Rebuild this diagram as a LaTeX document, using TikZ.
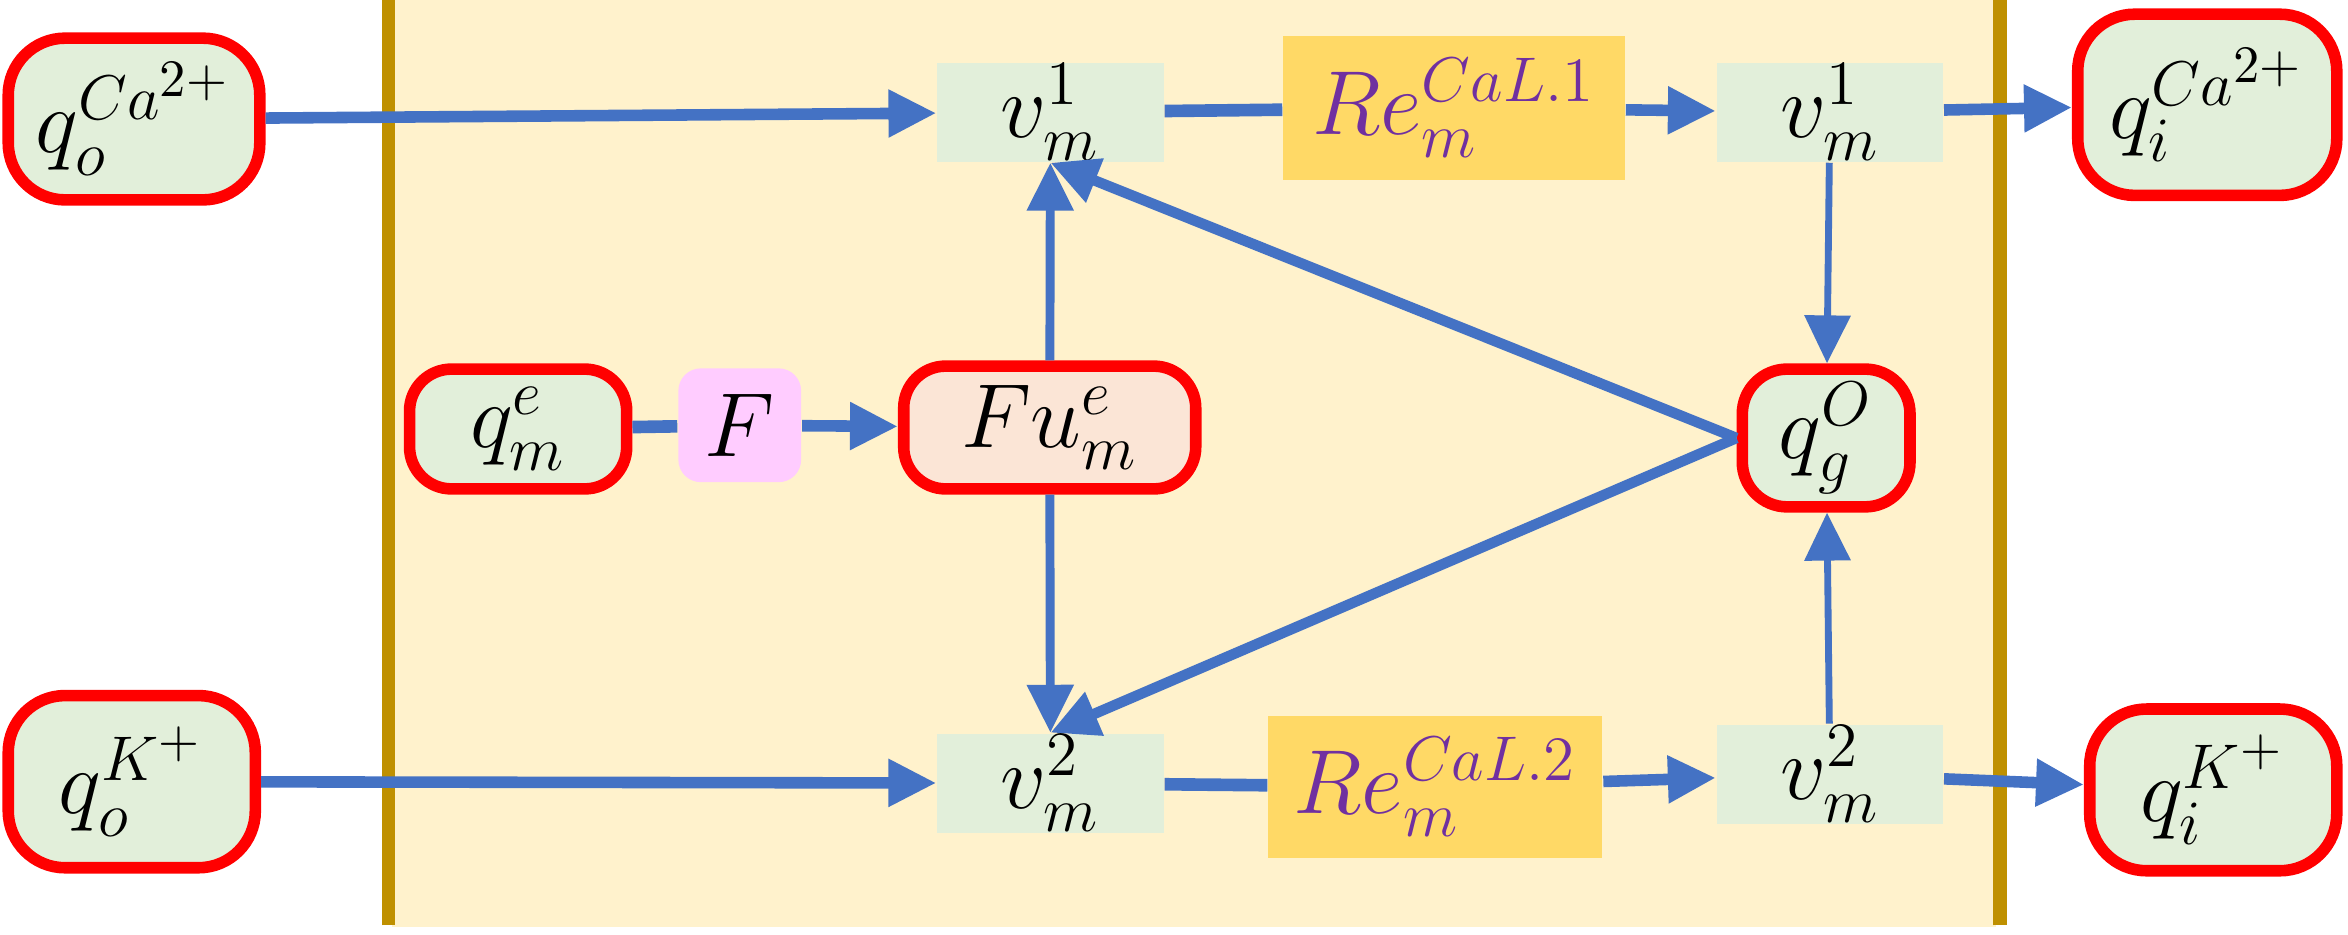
\documentclass[tikz,border=0pt]{standalone}
\usepackage{tikz}
\usetikzlibrary{arrows.meta,positioning}
\usepackage{amsmath,amssymb}
\definecolor{ionfill}{HTML}{E2EFDA}
\definecolor{ionred}{HTML}{FF0000}
\definecolor{flowblue}{HTML}{4472C4}
\definecolor{membrane}{HTML}{FFF2CC}
\definecolor{wallgold}{HTML}{BF9000}
\definecolor{refill}{HTML}{FFD966}
\definecolor{retext}{HTML}{7030A0}
\definecolor{ffill}{HTML}{FFCCFF}
\definecolor{fufill}{HTML}{FBE5D6}

\begin{document}
\begin{tikzpicture}[
  ion/.style={draw=ionred, line width=2.2pt, fill=#1, rounded corners=0.38cm, font=\LARGE, inner sep=0pt},
  volt/.style={fill=ionfill, font=\LARGE, inner sep=0pt, minimum width=1.51cm, minimum height=0.66cm},
  rect/.style={fill=refill, text=retext, font=\LARGE, inner sep=0pt},
  flow/.style={flowblue, line width=2.2pt, -{Triangle[length=3.2mm,width=3mm]}},
  link/.style={flowblue, line width=2.4pt}
]
  \useasboundingbox (0,0) rectangle (15.68,6.24);

  % membrane
  \fill[membrane] (2.62,0.05) rectangle (13.33,6.24);
  \foreach \x in {2.595,13.355} {
    \draw[wallgold, line width=0.9mm] (\x,0.06) -- (\x,6.24);
  }

  % ions outside / inside
  \node[ion=ionfill, minimum width=1.68cm, minimum height=1.08cm] (qo1) at (0.895,5.445) {$q_o^{Ca^{2+}}$};
  \node[ion=ionfill, minimum width=1.73cm, minimum height=1.21cm] (qi1) at (14.74,5.54) {$q_i^{Ca^{2+}}$};
  \node[ion=ionfill, minimum width=1.65cm, minimum height=1.15cm] (qo2) at (0.88,1.02) {$q_o^{K^+}$};
  \node[ion=ionfill, minimum width=1.65cm, minimum height=1.08cm] (qi2) at (14.78,0.965) {$q_i^{K^+}$};

  % channels
  \node[volt] (vL1) at (7.015,5.49) {$v_m^1$};
  \node[volt] (vR1) at (12.22,5.49) {$v_m^1$};
  \node[volt] (vL2) at (7.015,1.01) {$v_m^2$};
  \node[volt] (vR2) at (12.22,1.07) {$v_m^2$};
  \node[rect, minimum width=2.28cm, minimum height=0.96cm] (Re1) at (9.71,5.52) {$Re_m^{CaL.1}$};
  \node[rect, minimum width=2.23cm, minimum height=0.95cm] (Re2) at (9.585,0.985) {$Re_m^{CaL.2}$};

  % middle row
  \node[ion=ionfill, rounded corners=0.28cm, minimum width=1.45cm, minimum height=0.80cm] (qme) at (3.46,3.375) {$q_m^e$};
  \node[fill=ffill, rounded corners=0.15cm, font=\LARGE, minimum width=0.82cm, minimum height=0.76cm] (F) at (4.94,3.40) {$F$};
  \node[ion=fufill, rounded corners=0.28cm, minimum width=1.95cm, minimum height=0.82cm] (Fu) at (7.01,3.385) {$Fu_m^e$};
  \node[ion=ionfill, rounded corners=0.3cm, minimum width=1.12cm, minimum height=0.92cm] (qgO) at (12.195,3.315) {$q_g^O$};

  \foreach \r in {1,2} {
    \draw[flow] (qo\r) -- (vL\r);
    \draw[link] (vL\r) -- (Re\r);
    \draw[flow] (Re\r) -- (vR\r);
    \draw[flow] (vR\r) -- (qi\r);
  }

  \draw[link] (qme) -- (F);
  \draw[flow] (F) -- (Fu);
  \draw[flow, line width=1.7pt] (Fu) -- (vL1);
  \draw[flow, line width=1.7pt] (Fu) -- (vL2);
  \draw[flow, line width=2pt] (qgO.west) -- (vL1.south);
  \draw[flow, line width=2pt] (qgO.west) -- (vL2.north);
  \draw[flow, line width=1.3pt] (vR1) -- (qgO);
  \draw[flow, line width=1.3pt] (vR2) -- (qgO);
\end{tikzpicture}
\end{document}
